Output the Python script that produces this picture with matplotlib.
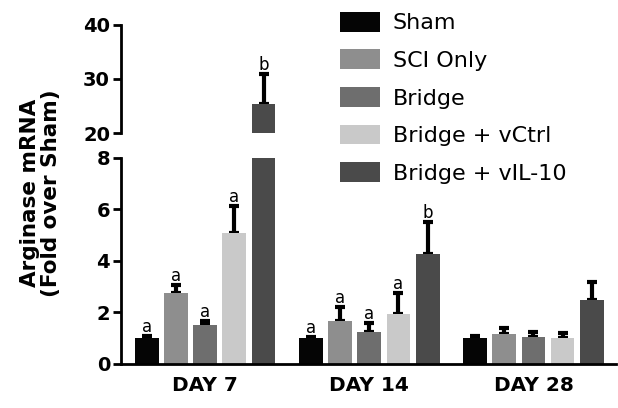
import numpy as np
import matplotlib.pyplot as plt

plt.rcParams['font.family'] = ['DejaVu Sans']

days = ['DAY 7', 'DAY 14', 'DAY 28']
groups = ['Sham', 'SCI Only', 'Bridge', 'Bridge + vCtrl', 'Bridge + vIL-10']
colors = ['#050505', '#8e8e8e', '#6e6e6e', '#c9c9c9', '#4a4a4a']

# mean fold change, rows = groups, cols = days
means = np.array([
    [1.0, 1.0, 1.0],
    [2.75, 1.65, 1.15],
    [1.5, 1.23, 1.05],
    [5.1, 1.95, 1.0],
    [25.4, 4.25, 2.5],
])
errs = np.array([
    [0.1, 0.06, 0.1],
    [0.3, 0.55, 0.25],
    [0.15, 0.37, 0.2],
    [1.05, 0.82, 0.2],
    [5.5, 1.25, 0.7],
])
letters = [
    ['a', 'a', ''],
    ['a', 'a', ''],
    ['a', 'a', ''],
    ['a', 'a', ''],
    ['b', 'b', ''],
]

fig = plt.figure(figsize=(6.18, 4.08), dpi=100)
ax_lo = fig.add_axes([0.196, 0.108, 0.80, 0.505])
ax_hi = fig.add_axes([0.196, 0.674, 0.80, 0.265])

x = np.arange(len(days)) * 166.0
width = 24
step = 29.5

for ax in (ax_lo, ax_hi):
    for i, g in enumerate(groups):
        pos = x + (i - 2) * step
        ax.bar(pos, means[i], width, color=colors[i], label=g, zorder=2)
        ax.errorbar(pos, means[i], yerr=[np.zeros(3), errs[i]], fmt='none',
                    ecolor='black', elinewidth=3, capsize=3.5, capthick=3, zorder=1)

for i in range(len(groups)):
    for j in range(len(days)):
        if not letters[i][j]:
            continue
        top = means[i, j] + errs[i, j]
        ax = ax_hi if top > 8 else ax_lo
        ax.annotate(letters[i][j], (x[j] + (i - 2) * step, top), xytext=(0, 0),
                    textcoords='offset points', ha='center', va='bottom', fontsize=12)

ax_lo.set_ylim(0, 8)
ax_lo.set_yticks([0, 2, 4, 6, 8])
ax_hi.set_ylim(20, 40)
ax_hi.set_yticks([20, 30, 40])

for ax in (ax_lo, ax_hi):
    ax.set_xlim(-85, 415)
    for s in ['top', 'right']:
        ax.spines[s].set_visible(False)
    ax.spines['left'].set_linewidth(2)
    ax.tick_params(axis='y', width=2, length=6, labelsize=14, pad=2)
    for lab in ax.get_yticklabels():
        lab.set_fontweight('bold')

ax_hi.spines['bottom'].set_visible(False)
ax_hi.set_xticks([])
ax_lo.spines['bottom'].set_linewidth(2)
ax_lo.set_xticks(x)
ax_lo.set_xticklabels(days, fontsize=14.5, fontweight='bold')
ax_lo.tick_params(axis='x', length=0, pad=9)

fig.text(0.066, 0.527, 'Arginase mRNA\n(Fold over Sham)', rotation=90, ha='center',
         va='center', fontsize=15.5, fontweight='bold', linespacing=1.05)

handles, labels = ax_lo.get_legend_handles_labels()
fig.legend(handles, labels, loc='upper left', bbox_to_anchor=(0.517, 1.02), frameon=False,
           fontsize=16, handlelength=1.8, handleheight=1.0, labelspacing=0.72,
           handletextpad=0.6)

fig.savefig('out.png', dpi=100)
